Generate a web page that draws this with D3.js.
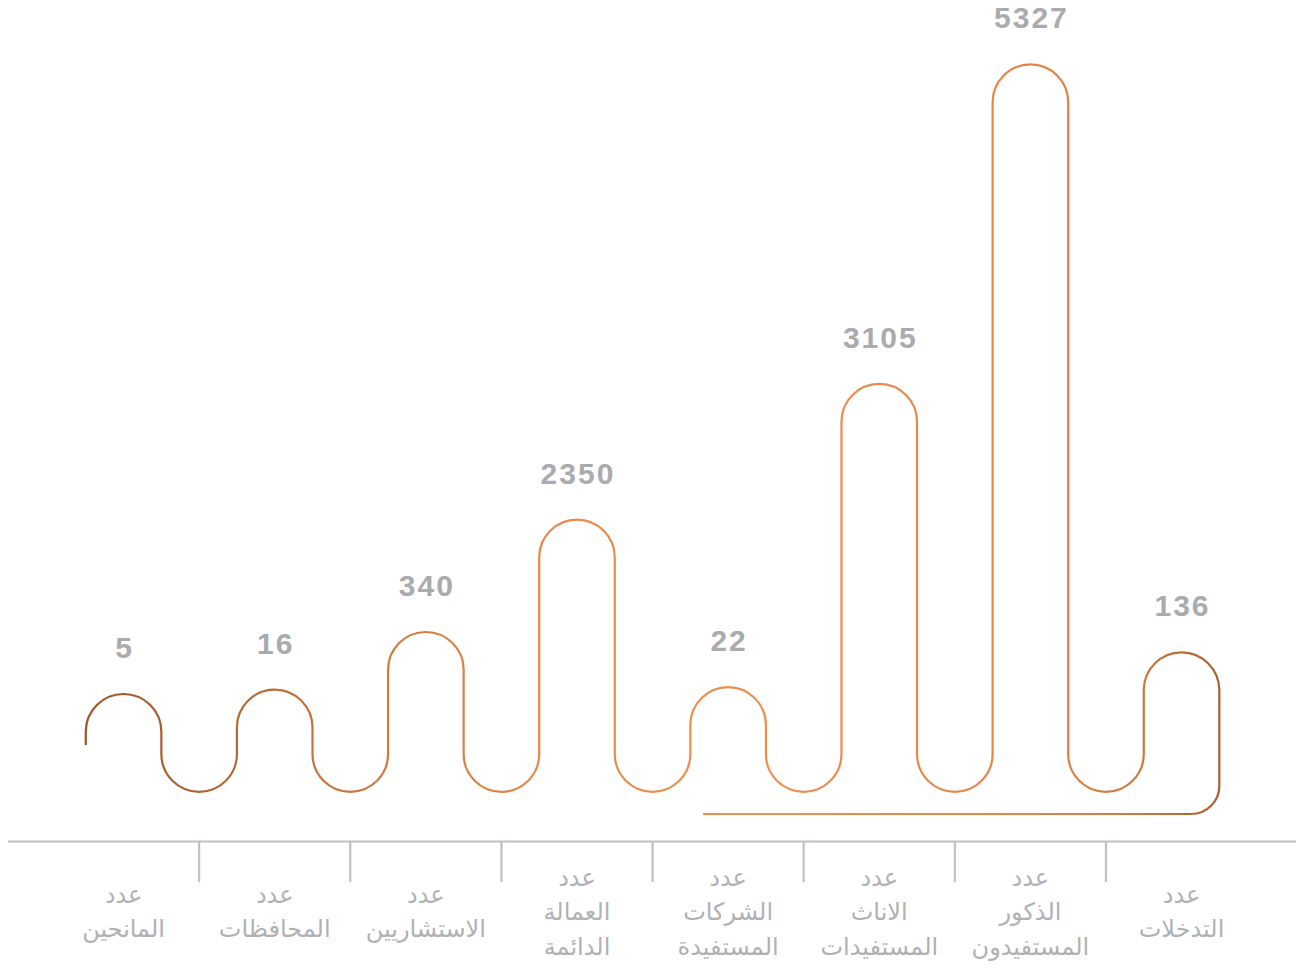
<!DOCTYPE html>
<html><head><meta charset="utf-8">
<script src="https://cdn.jsdelivr.net/npm/d3@7"></script>
<style>html,body{margin:0;padding:0;background:#fff;}svg{display:block;}</style>
</head><body>
<svg id="chart" width="1298" height="969"></svg>
<script>
// ---- data ----
const categories = ["المانحين","المحافظات","الاستشاريين","العمالة الدائمة","الشركات المستفيدة","الاناث المستفيدات","الذكور المستفيدون","التدخلات"];
const labelLines = [
  ["عدد","المانحين"],
  ["عدد","المحافظات"],
  ["عدد","الاستشاريين"],
  ["عدد","العمالة","الدائمة"],
  ["عدد","الشركات","المستفيدة"],
  ["عدد","الاناث","المستفيدات"],
  ["عدد","الذكور","المستفيدون"],
  ["عدد","التدخلات"]
];
const values = [5, 16, 340, 2350, 22, 3105, 5327, 136];

// ---- layout ----
const svg = d3.select("#chart");
const x = d3.scaleBand().domain(categories).range([48, 1257.1]).padding(0);
const bw = x.bandwidth();
const r = bw / 4;                 // radius of rounded tops and U bottoms
const uCenterY = 754;             // centre line of the U bends
// non-linear (piecewise) value scale: height of a bar above the U centre line
const h = d3.scaleLinear()
  .domain([0, 100, 400, 2400, 3200, 5400])
  .range([58, 98, 128, 237, 388, 700]);
const topY = v => uCenterY - h(v);          // y of the top of the rounded cap

// gradient along x
const defs = svg.append("defs");
const grad = defs.append("linearGradient").attr("id","g")
  .attr("gradientUnits","userSpaceOnUse")
  .attr("x1",85).attr("x2",1222).attr("y1",0).attr("y2",0);
[[0,"#9a5528"],[0.2,"#c4733b"],[0.4,"#e8894a"],[0.6,"#ec904f"],[0.82,"#e5844a"],[0.92,"#d07a40"],[1,"#a85f2d"]]
  .forEach(([o,c]) => grad.append("stop").attr("offset",o).attr("stop-color",c));

// build the wave path
const p = d3.path();
const cx0 = x(categories[0]) + bw/2;
p.moveTo(cx0 - r, uCenterY - 9);
values.forEach((v, i) => {
  const cx = x(categories[i]) + bw/2;
  const cy = topY(v) + r;
  p.lineTo(cx - r, cy);
  p.arc(cx, cy, r, Math.PI, 0, false);  // over the top
  if (i < values.length - 1) {
    p.lineTo(cx + r, uCenterY);
    const ux = cx + bw/2;
    p.arc(ux, uCenterY, r, Math.PI, 0, true); // U bottom
  } else {
    const cornerR = 28, baseY = 814;
    p.lineTo(cx + r, baseY - cornerR);
    p.arc(cx + r - cornerR, baseY - cornerR, cornerR, 0, Math.PI/2, false);
    p.lineTo(703, baseY);
  }
});
svg.append("path").attr("d", p.toString())
  .attr("fill","none").attr("stroke","url(#g)").attr("stroke-width",2.2)
  .attr("stroke-linejoin","round");

// value labels
svg.append("g").selectAll("text").data(values).join("text")
  .attr("x", (d,i) => x(categories[i]) + bw/2 + 1)
  .attr("y", d => topY(d) - 36)
  .attr("text-anchor","middle")
  .attr("font-family","'Liberation Sans', Arial, sans-serif")
  .attr("font-weight","bold").attr("font-size",30)
  .attr("letter-spacing",2)
  .attr("fill","#a9abae")
  .text(d => d);

// axis line and separators
const axisY = 841.5;
svg.append("line").attr("x1",8).attr("x2",1296).attr("y1",axisY).attr("y2",axisY)
  .attr("stroke","#bcc3c8").attr("stroke-width",2.2);
svg.append("g").selectAll("line").data(categories.slice(1)).join("line")
  .attr("x1", d => x(d)).attr("x2", d => x(d))
  .attr("y1", axisY).attr("y2", 882)
  .attr("stroke","#bcc3c8").attr("stroke-width",2.2);

// category labels
const lh = 34.5, midY = 912;
const lg = svg.append("g");
labelLines.forEach((lines, i) => {
  const cx = x(categories[i]) + bw/2;
  const n = lines.length;
  const t = lg.append("text")
    .attr("text-anchor","middle")
    .attr("font-family","'DejaVu Sans', sans-serif")
    .attr("font-size",24)
    .attr("fill","#b0b1b3")
    .attr("direction","rtl");
  lines.forEach((ln, k) => {
    t.append("tspan").attr("x", cx)
      .attr("y", midY + (k - (n-1)/2) * lh + 8)
      .text(ln);
  });
});
</script>
</body></html>
